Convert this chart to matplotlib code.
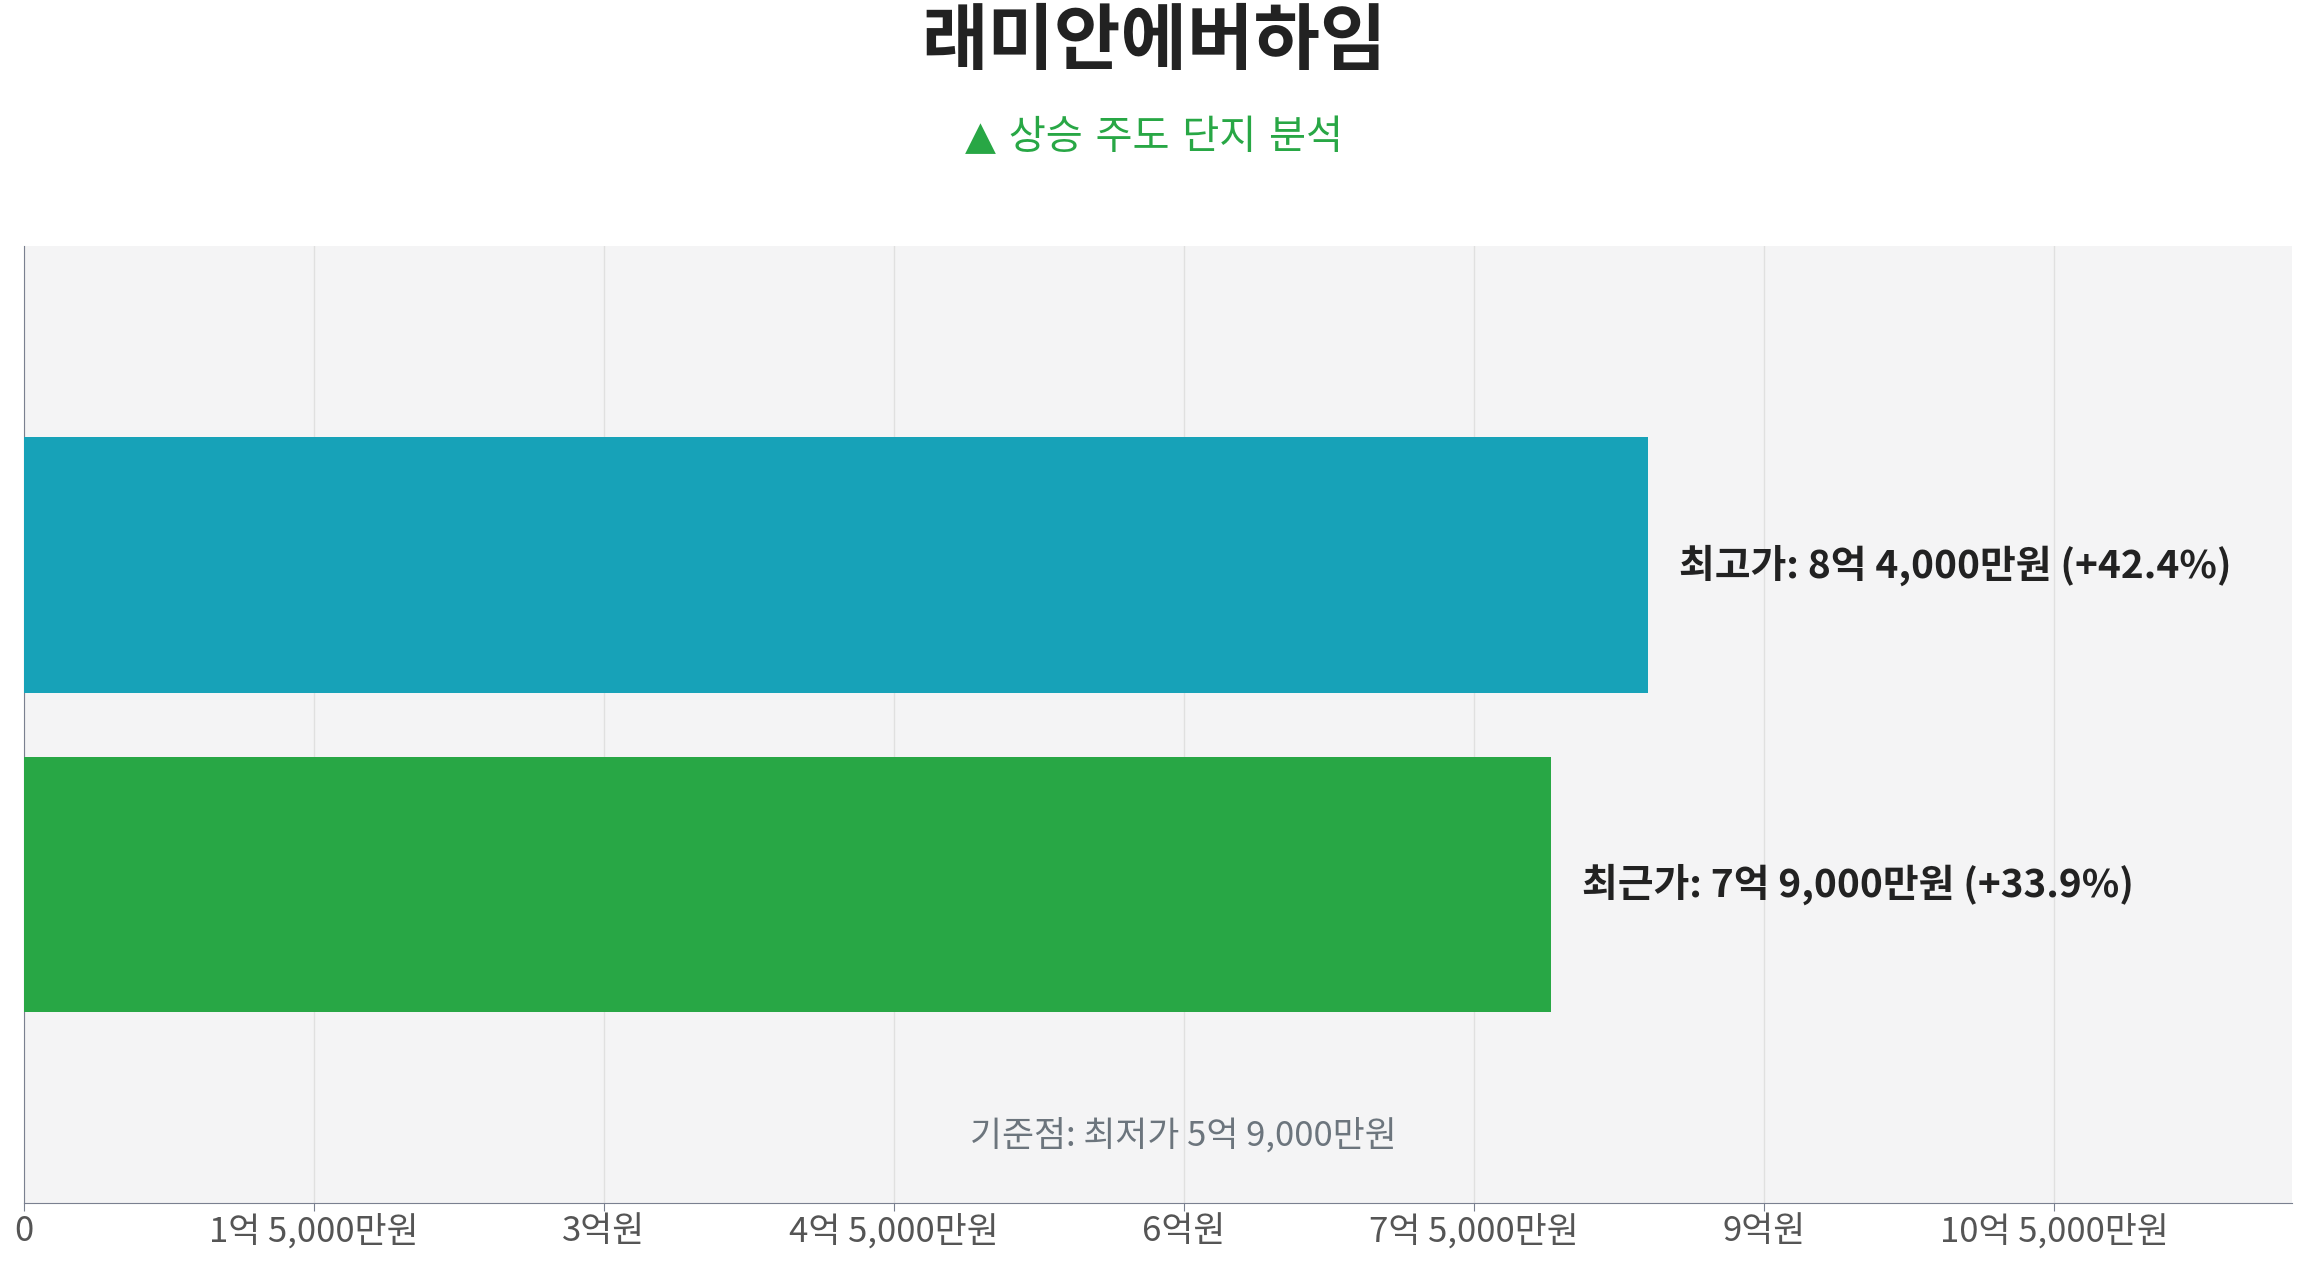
import matplotlib
matplotlib.use("Agg")
import matplotlib.pyplot as plt

plt.rcParams['font.family'] = ['Noto Sans CJK KR', 'DejaVu Sans']

categories = ["최근가", "최고가"]
values = [7.9, 8.4]  # 억원
labels = ["최근가: 7억 9,000만원 (+33.9%)", "최고가: 8억 4,000만원 (+42.4%)"]
colors = ["#28a745", "#17a2b8"]
tick_vals = [0, 1.5, 3, 4.5, 6, 7.5, 9, 10.5]
tick_labels = ["0", "1억 5,000만원", "3억원", "4억 5,000만원", "6억원", "7억 5,000만원", "9억원", "10억 5,000만원"]
baseline_text = "기준점: 최저가 5억 9,000만원"

fig = plt.figure(figsize=(23.08, 12.68), dpi=100)
ax = fig.add_axes([0.0102, 0.051, 0.9828, 0.755])
ax.set_facecolor("#f4f4f5")
ax.barh(range(len(values)), values, height=0.8, color=colors, zorder=3)
for i, (v, t) in enumerate(zip(values, labels)):
    ax.text(v + 0.16, i, t, va="center", ha="left", fontsize=28, fontweight="bold", color="#222222", zorder=4)
ax.text(6.0, -0.79, baseline_text, ha="center", va="center", fontsize=25, color="#6c757d")
ax.set_xlim(0, 11.73)
ax.set_ylim(-1, 2)
ax.set_yticks([])
ax.set_xticks(tick_vals)
ax.set_xticklabels(tick_labels, fontsize=25, color="#555555")
ax.tick_params(axis="x", length=6, color="#7a8090", pad=2)
ax.grid(axis="x", color="#e0e0e0", linewidth=1, zorder=0)
for s in ["top", "right"]:
    ax.spines[s].set_visible(False)
for s in ["left", "bottom"]:
    ax.spines[s].set_color("#7a8090")
fig.text(0.5, 0.966, "래미안에버하임", ha="center", va="center", fontsize=52, fontweight="bold", color="#222222")
fig.text(0.5, 0.891, "▲ 상승 주도 단지 분석", ha="center", va="center", fontsize=29, color="#28a745",
         family=['DejaVu Sans', 'Noto Sans CJK KR'])
fig.savefig("out.png", dpi=100)
